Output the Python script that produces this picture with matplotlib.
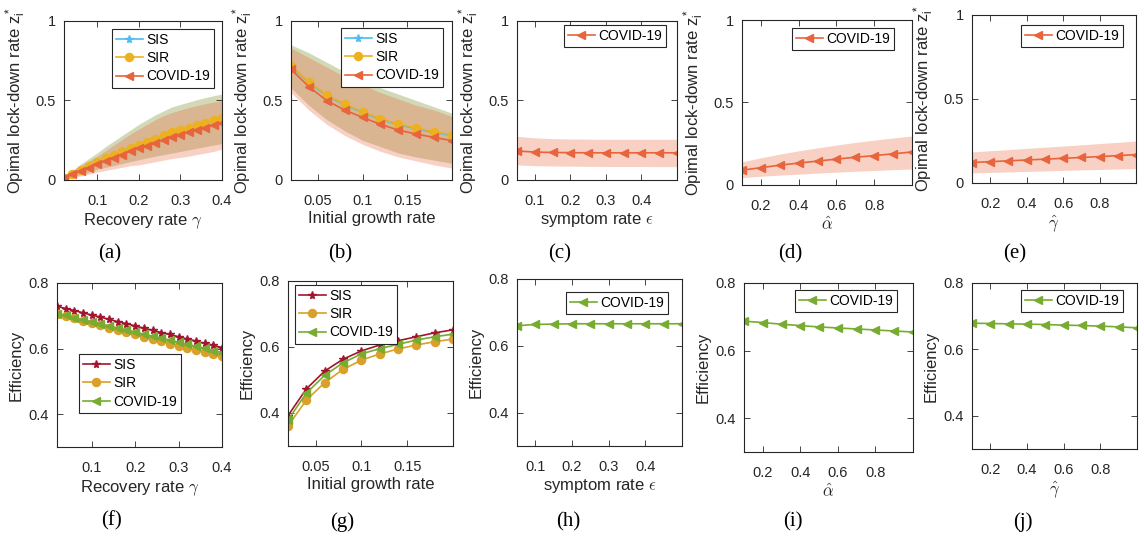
import numpy as np
import matplotlib
matplotlib.use("Agg")
from matplotlib import pyplot as plt

W, H = 1144, 542

plt.rcParams["font.family"] = ["Liberation Sans", "DejaVu Sans"]
plt.rcParams["mathtext.fontset"] = "cm"

# MATLAB default colours
C_SIS_TOP = "#4DBEEE"
C_SIR_TOP = "#EDB120"
C_COV_TOP = "#E8643C"
C_SIS_BOT = "#A2142F"
C_SIR_BOT = "#D9A02A"
C_COV_BOT = "#77AC30"
AX_COLOR = "#262626"

# ---- x values ----
gamma = [0.02, 0.04, 0.06, 0.08, 0.10, 0.12, 0.14, 0.16, 0.18, 0.20,
         0.22, 0.24, 0.26, 0.28, 0.30, 0.32, 0.34, 0.36, 0.38, 0.40]
growth = [0.02, 0.04, 0.06, 0.08, 0.10, 0.12, 0.14, 0.16, 0.18, 0.20]
eps = [0.05, 0.10, 0.15, 0.20, 0.25, 0.30, 0.35, 0.40, 0.45, 0.50]
alpha_hat = [0.1, 0.2, 0.3, 0.4, 0.5, 0.6, 0.7, 0.8, 0.9, 1.0]
gamma_hat = [0.1, 0.2, 0.3, 0.4, 0.5, 0.6, 0.7, 0.8, 0.9, 1.0]

# ---- (a) lock-down rate vs recovery rate ----
z_gamma_sis = [0.008, 0.036, 0.061, 0.086, 0.111, 0.135, 0.156, 0.176, 0.196, 0.216,
               0.236, 0.256, 0.276, 0.295, 0.311, 0.326, 0.341, 0.356, 0.371, 0.384]
z_gamma_sir = [0.010, 0.040, 0.065, 0.090, 0.115, 0.140, 0.160, 0.180, 0.200, 0.220,
               0.240, 0.260, 0.280, 0.300, 0.315, 0.330, 0.345, 0.360, 0.375, 0.388]
z_gamma_cov = [0.010, 0.035, 0.055, 0.075, 0.100, 0.120, 0.140, 0.160, 0.180, 0.200,
               0.215, 0.235, 0.250, 0.270, 0.285, 0.300, 0.315, 0.330, 0.345, 0.357]
z_gamma_hi = [0.015, 0.060, 0.100, 0.135, 0.170, 0.210, 0.245, 0.280, 0.315, 0.350,
              0.380, 0.410, 0.435, 0.460, 0.475, 0.490, 0.505, 0.518, 0.530, 0.540]
z_gamma_lo = [0.005, 0.020, 0.035, 0.050, 0.068, 0.080, 0.092, 0.104, 0.116, 0.128,
              0.140, 0.150, 0.160, 0.170, 0.180, 0.190, 0.200, 0.210, 0.220, 0.230]
z_gamma_cov_hi = [0.014, 0.055, 0.090, 0.120, 0.150, 0.185, 0.220, 0.255, 0.290, 0.320,
                  0.350, 0.380, 0.405, 0.425, 0.440, 0.455, 0.468, 0.480, 0.490, 0.500]
z_gamma_cov_lo = [0.004, 0.015, 0.025, 0.037, 0.050, 0.060, 0.070, 0.080, 0.090, 0.095,
                  0.105, 0.115, 0.125, 0.135, 0.142, 0.150, 0.160, 0.170, 0.180, 0.195]

# ---- (b) lock-down rate vs initial growth rate ----
z_growth_sis = [0.715, 0.613, 0.530, 0.473, 0.425, 0.381, 0.347, 0.322, 0.299, 0.280]
z_growth_sir = [0.720, 0.618, 0.535, 0.478, 0.430, 0.386, 0.352, 0.327, 0.304, 0.285]
z_growth_cov = [0.696, 0.587, 0.499, 0.440, 0.394, 0.350, 0.314, 0.289, 0.268, 0.247]
z_growth_hi = [0.850, 0.800, 0.740, 0.680, 0.630, 0.580, 0.540, 0.500, 0.460, 0.420]
z_growth_lo = [0.580, 0.470, 0.380, 0.310, 0.250, 0.210, 0.170, 0.145, 0.125, 0.105]
z_growth_cov_hi = [0.830, 0.770, 0.710, 0.650, 0.600, 0.550, 0.510, 0.470, 0.440, 0.400]
z_growth_cov_lo = [0.550, 0.440, 0.350, 0.280, 0.225, 0.180, 0.145, 0.120, 0.095, 0.075]

# ---- (c)-(e) COVID-19 lock-down rate ----
z_eps = [0.182, 0.176, 0.173, 0.172, 0.171, 0.171, 0.171, 0.171, 0.171, 0.171]
z_eps_hi = [0.275, 0.265, 0.260, 0.258, 0.257, 0.256, 0.256, 0.256, 0.256, 0.256]
z_eps_lo = [0.095, 0.090, 0.088, 0.087, 0.086, 0.085, 0.085, 0.085, 0.084, 0.084]

z_alpha = [0.090, 0.105, 0.120, 0.133, 0.145, 0.157, 0.168, 0.178, 0.189, 0.200]
z_alpha_hi = [0.140, 0.165, 0.187, 0.207, 0.225, 0.242, 0.258, 0.272, 0.285, 0.297]
z_alpha_lo = [0.045, 0.053, 0.060, 0.066, 0.072, 0.078, 0.083, 0.088, 0.093, 0.097]

z_ghat = [0.122, 0.127, 0.132, 0.137, 0.142, 0.147, 0.152, 0.157, 0.163, 0.169]
z_ghat_hi = [0.185, 0.192, 0.199, 0.206, 0.213, 0.220, 0.227, 0.235, 0.242, 0.250]
z_ghat_lo = [0.060, 0.063, 0.066, 0.069, 0.072, 0.075, 0.078, 0.081, 0.083, 0.086]

# ---- (f) efficiency vs recovery rate ----
eff_gamma_sis = [0.729, 0.722, 0.716, 0.709, 0.702, 0.696, 0.689, 0.682, 0.676, 0.669,
                 0.662, 0.656, 0.649, 0.643, 0.636, 0.629, 0.623, 0.616, 0.610, 0.603]
eff_gamma_sir = [0.705, 0.699, 0.692, 0.685, 0.678, 0.671, 0.664, 0.657, 0.650, 0.643,
                 0.636, 0.629, 0.622, 0.615, 0.609, 0.602, 0.596, 0.589, 0.583, 0.577]
eff_gamma_cov = [0.707, 0.701, 0.694, 0.688, 0.682, 0.676, 0.669, 0.663, 0.657, 0.651,
                 0.644, 0.638, 0.632, 0.626, 0.619, 0.613, 0.607, 0.601, 0.594, 0.588]

# ---- (g) efficiency vs initial growth rate ----
eff_growth_sis = [0.392, 0.473, 0.527, 0.563, 0.588, 0.606, 0.619, 0.631, 0.643, 0.652]
eff_growth_sir = [0.361, 0.439, 0.492, 0.532, 0.560, 0.579, 0.594, 0.606, 0.616, 0.624]
eff_growth_cov = [0.379, 0.460, 0.514, 0.552, 0.579, 0.595, 0.608, 0.621, 0.631, 0.639]

# ---- (h)-(j) COVID-19 efficiency ----
eff_eps = [0.660, 0.664, 0.665, 0.666, 0.666, 0.666, 0.666, 0.666, 0.666, 0.666]
eff_alpha = [0.687, 0.683, 0.678, 0.674, 0.670, 0.667, 0.664, 0.661, 0.658, 0.655]
eff_ghat = [0.679, 0.678, 0.677, 0.676, 0.675, 0.673, 0.672, 0.670, 0.668, 0.665]

ZLABEL = r"Opimal lock-down rate $\mathregular{z_i^*}$"


def add_axes(fig, left, top, right, bottom):
    return fig.add_axes([left / W, 1 - bottom / H, (right - left) / W, (bottom - top) / H])


def style(ax, px_w, px_h, xlabel, ylabel, xlim, xticks, ylim, yticks, ytl, ylab_off):
    ax.set_xlim(*xlim)
    ax.set_ylim(*ylim)
    ax.set_xticks(xticks)
    ax.set_xticklabels([f"{t:g}" for t in xticks])
    ax.set_yticks(yticks)
    ax.set_yticklabels(ytl)
    ax.tick_params(direction="in", length=4, width=0.6, top=True, right=True,
                   labelsize=10.5, colors=AX_COLOR, labelcolor=AX_COLOR)
    ax.tick_params(axis="x", pad=10)
    ax.tick_params(axis="y", pad=6)
    for s in ax.spines.values():
        s.set_color(AX_COLOR)
        s.set_linewidth(0.8)
    ax.set_xlabel(xlabel, fontsize=12, color=AX_COLOR)
    ax.set_ylabel(ylabel, fontsize=12, color=AX_COLOR)
    ax.xaxis.set_label_coords(0.5, -31 / px_h)
    ax.yaxis.set_label_coords(-ylab_off / px_w, 0.5)


def legend(ax, left, top, **kw):
    leg = ax.legend(loc="upper left", bbox_to_anchor=(left / W, 1 - top / H),
                    bbox_transform=ax.figure.transFigure, borderaxespad=0,
                    fontsize=10, fancybox=False, framealpha=1, edgecolor=AX_COLOR,
                    handlelength=1.9, handletextpad=0.25, labelspacing=0.3,
                    borderpad=0.3, **kw)
    leg.get_frame().set_linewidth(0.8)
    return leg


line_kw = dict(lw=1.2, ms=5.8)

fig = plt.figure(figsize=(W / 100, H / 100), dpi=100)

# (a)
ax = add_axes(fig, 64, 21, 222, 180)
ax.fill_between(gamma, z_gamma_lo, z_gamma_hi, color=C_SIS_TOP, alpha=0.3, lw=0)
ax.fill_between(gamma, z_gamma_lo, z_gamma_hi, color=C_SIR_TOP, alpha=0.3, lw=0)
ax.fill_between(gamma, z_gamma_cov_lo, z_gamma_cov_hi, color=C_COV_TOP, alpha=0.3, lw=0)
ax.plot(gamma, z_gamma_sis, "-*", color=C_SIS_TOP, label="SIS", **line_kw)
ax.plot(gamma, z_gamma_sir, "-o", color=C_SIR_TOP, label="SIR", **line_kw)
ax.plot(gamma, z_gamma_cov, "-<", color=C_COV_TOP, label="COVID-19", **line_kw)
style(ax, 158, 159, r"Recovery rate $\gamma$", ZLABEL, (0.02, 0.4), [0.1, 0.2, 0.3, 0.4],
      (0, 1), [0, 0.5, 1], ["0", "0.5", "1"], 36)
legend(ax, 112, 29)

# (b)
ax = add_axes(fig, 291, 21, 452, 180)
ax.fill_between(growth, z_growth_lo, z_growth_hi, color=C_SIS_TOP, alpha=0.3, lw=0)
ax.fill_between(growth, z_growth_lo, z_growth_hi, color=C_SIR_TOP, alpha=0.3, lw=0)
ax.fill_between(growth, z_growth_cov_lo, z_growth_cov_hi, color=C_COV_TOP, alpha=0.3, lw=0)
ax.plot(growth, z_growth_sis, "-*", color=C_SIS_TOP, label="SIS", **line_kw)
ax.plot(growth, z_growth_sir, "-o", color=C_SIR_TOP, label="SIR", **line_kw)
ax.plot(growth, z_growth_cov, "-<", color=C_COV_TOP, label="COVID-19", **line_kw)
style(ax, 161, 159, "Initial growth rate", ZLABEL, (0.02, 0.2), [0.05, 0.1, 0.15],
      (0, 1), [0, 0.5, 1], ["0", "0.5", "1"], 36)
legend(ax, 341, 28)

# (c)
ax = add_axes(fig, 517, 21, 677, 180)
ax.fill_between(eps, z_eps_lo, z_eps_hi, color=C_COV_TOP, alpha=0.3, lw=0)
ax.plot(eps, z_eps, "-<", color=C_COV_TOP, label="COVID-19", **line_kw)
style(ax, 160, 159, r"symptom rate $\epsilon$", ZLABEL, (0.05, 0.5), [0.1, 0.2, 0.3, 0.4],
      (0, 1), [0, 0.5, 1], ["0", "0.5", "1"], 36)
legend(ax, 564, 25)

# (d)
ax = add_axes(fig, 742, 20, 912, 185)
ax.fill_between(alpha_hat, z_alpha_lo, z_alpha_hi, color=C_COV_TOP, alpha=0.3, lw=0)
ax.plot(alpha_hat, z_alpha, "-<", color=C_COV_TOP, label="COVID-19", **line_kw)
style(ax, 170, 165, r"$\hat{\alpha}$", ZLABEL, (0.1, 1.0), [0.2, 0.4, 0.6, 0.8],
      (0, 1), [0, 0.5, 1], ["0", "0.5", "1"], 36)
legend(ax, 792, 28)

# (e)
ax = add_axes(fig, 972, 15, 1136, 183)
ax.fill_between(gamma_hat, z_ghat_lo, z_ghat_hi, color=C_COV_TOP, alpha=0.3, lw=0)
ax.plot(gamma_hat, z_ghat, "-<", color=C_COV_TOP, label="COVID-19", **line_kw)
style(ax, 164, 168, r"$\hat{\gamma}$", ZLABEL, (0.1, 1.0), [0.2, 0.4, 0.6, 0.8],
      (0, 1), [0, 0.5, 1], ["0", "0.5", "1"], 36)
legend(ax, 1021, 25)

eff_ticks = [0.4, 0.6, 0.8]
eff_tl = ["0.4", "0.6", "0.8"]

# (f)
ax = add_axes(fig, 57, 283, 222, 447)
ax.plot(gamma, eff_gamma_sis, "-*", color=C_SIS_BOT, label="SIS", **line_kw)
ax.plot(gamma, eff_gamma_sir, "-o", color=C_SIR_BOT, label="SIR", **line_kw)
ax.plot(gamma, eff_gamma_cov, "-<", color=C_COV_BOT, label="COVID-19", **line_kw)
style(ax, 165, 164, r"Recovery rate $\gamma$", "Efficiency", (0.02, 0.4), [0.1, 0.2, 0.3, 0.4],
      (0.3, 0.8), eff_ticks, eff_tl, 33)
legend(ax, 79, 354)

# (g)
ax = add_axes(fig, 288, 281, 453, 446)
ax.plot(growth, eff_growth_sis, "-*", color=C_SIS_BOT, label="SIS", **line_kw)
ax.plot(growth, eff_growth_sir, "-o", color=C_SIR_BOT, label="SIR", **line_kw)
ax.plot(growth, eff_growth_cov, "-<", color=C_COV_BOT, label="COVID-19", **line_kw)
style(ax, 165, 165, "Initial growth rate", "Efficiency", (0.02, 0.2), [0.05, 0.1, 0.15],
      (0.3, 0.8), eff_ticks, eff_tl, 33)
legend(ax, 295, 285)

# (h)
ax = add_axes(fig, 517, 279, 682, 446)
ax.plot(eps, eff_eps, "-<", color=C_COV_BOT, label="COVID-19", **line_kw)
style(ax, 165, 167, r"symptom rate $\epsilon$", "Efficiency", (0.05, 0.5), [0.1, 0.2, 0.3, 0.4],
      (0.3, 0.8), eff_ticks, eff_tl, 33)
legend(ax, 566, 292)

# (i)
ax = add_axes(fig, 744, 283, 913, 452)
ax.plot(alpha_hat, eff_alpha, "-<", color=C_COV_BOT, label="COVID-19", **line_kw)
style(ax, 169, 169, r"$\hat{\alpha}$", "Efficiency", (0.1, 1.0), [0.2, 0.4, 0.6, 0.8],
      (0.3, 0.8), eff_ticks, eff_tl, 33)
legend(ax, 795, 290)

# (j)
ax = add_axes(fig, 972, 283, 1137, 449)
ax.plot(gamma_hat, eff_ghat, "-<", color=C_COV_BOT, label="COVID-19", **line_kw)
style(ax, 165, 166, r"$\hat{\gamma}$", "Efficiency", (0.1, 1.0), [0.2, 0.4, 0.6, 0.8],
      (0.3, 0.8), eff_ticks, eff_tl, 33)
legend(ax, 1021, 290)

# panel captions
captions = ["(a)", "(b)", "(c)", "(d)", "(e)", "(f)", "(g)", "(h)", "(i)", "(j)"]
cap_x = [110, 340, 560, 790, 1015, 112, 342, 568, 793, 1023]
cap_y = [254, 254, 254, 254, 254, 521, 522, 522, 522, 522]
for t, cx, cy in zip(captions, cap_x, cap_y):
    fig.text(cx / W, 1 - cy / H, t, ha="center", va="center",
             family="Liberation Serif", fontsize=15, color="black")

fig.savefig("out.png", dpi=100)
